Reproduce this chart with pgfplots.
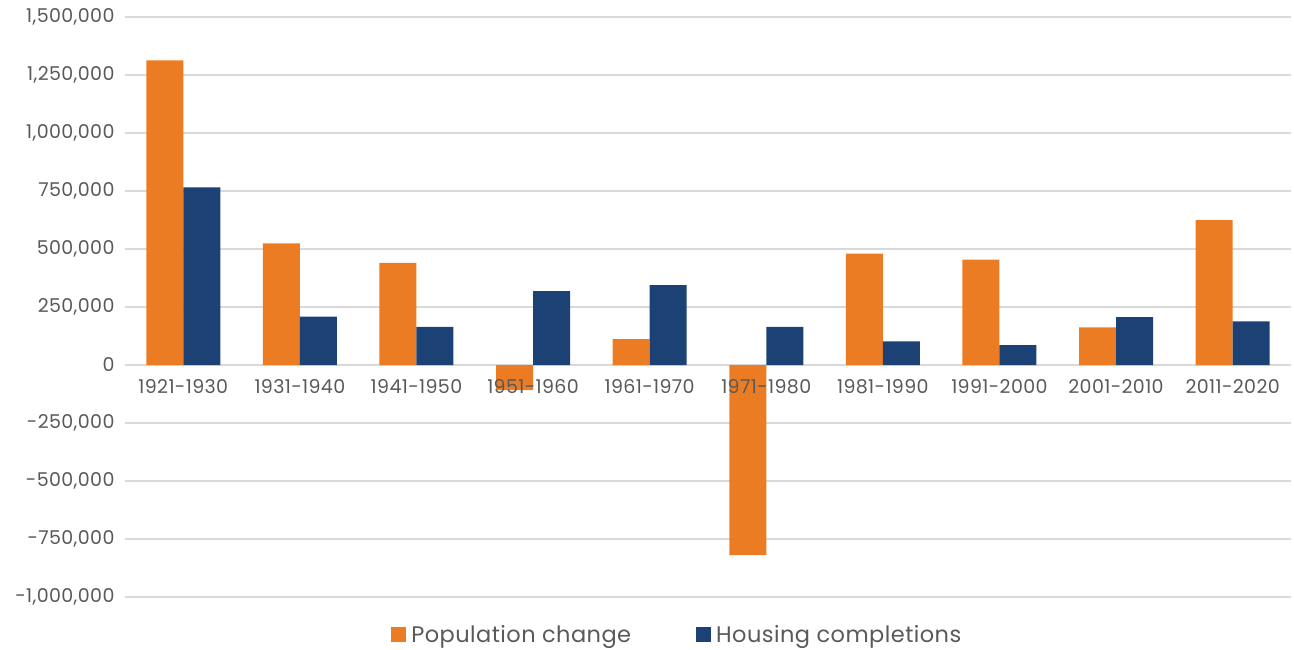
\documentclass[border=0pt]{standalone}
\usepackage{fontspec}
\setmainfont{Poppins}[LetterSpace=2]
\usepackage{pgfplots}
\pgfplotsset{compat=1.18}
\definecolor{popc}{RGB}{236,124,35}
\definecolor{housc}{RGB}{28,66,117}
\definecolor{gridc}{RGB}{217,217,217}
\definecolor{txtc}{RGB}{89,89,89}
\begin{document}
\begin{tikzpicture}
\begin{axis}[
  scale only axis, width=1166pt, height=580pt,
  xmin=-0.5, xmax=9.5, ymin=-1000000, ymax=1500000,
  ytick={-1000000,-750000,-500000,-250000,0,250000,500000,750000,1000000,1250000,1500000},
  xtick={0,1,2,3,4,5,6,7,8,9},
  xticklabels={},
  ybar=0pt, bar width=37pt,
  axis x line*=middle, axis y line*=left,
  hide obscured x ticks=false, hide obscured y ticks=false,
  y axis line style={draw=none},
  x axis line style={gridc, line width=1.5pt},
  major tick length=0pt,
  ymajorgrids, grid style={gridc, line width=1.5pt},
  scaled y ticks=false,
  yticklabel={\pgfmathprintnumber[fixed,1000 sep={,},assume math mode=true]{\tick}},
  tick label style={font=\fontsize{19}{21}\selectfont, text=txtc},
  yticklabel style={xshift=-7pt},
  legend style={at={(0.475,-0.0655)}, anchor=center, draw=none, fill=none,
    legend columns=2, font=\fontsize{22.5}{25}\selectfont, text=txtc,
    /tikz/every even column/.append style={column sep=60pt},
    nodes={inner xsep=5pt}},
  legend image code/.code={\fill[#1] (0pt,-7.5pt) rectangle (15pt,7.5pt);},
]
\addplot[fill=popc, draw=none] coordinates {
  (0,1313000) (1,524000) (2,440000) (3,-108000) (4,112000)
  (5,-819000) (6,480000) (7,454000) (8,162000) (9,625000)};
\addplot[fill=housc, draw=none] coordinates {
  (0,766000) (1,208000) (2,164000) (3,318000) (4,344000)
  (5,164000) (6,102000) (7,86000) (8,206000) (9,188000)};
\legend{Population change, Housing completions}
\begin{scope}[every node/.style={font=\fontsize{19}{21}\selectfont, text=txtc, anchor=center, yshift=-22pt}]
\node at (axis cs:0,0) {1921-1930};
\node at (axis cs:1,0) {1931-1940};
\node at (axis cs:2,0) {1941-1950};
\node at (axis cs:3,0) {1951-1960};
\node at (axis cs:4,0) {1961-1970};
\node at (axis cs:5,0) {1971-1980};
\node at (axis cs:6,0) {1981-1990};
\node at (axis cs:7,0) {1991-2000};
\node at (axis cs:8,0) {2001-2010};
\node at (axis cs:9,0) {2011-2020};
\end{scope}
\end{axis}
\pgfresetboundingbox
\path[use as bounding box] (-125pt,-52pt) rectangle (1169pt,597pt);
\end{tikzpicture}
\end{document}
